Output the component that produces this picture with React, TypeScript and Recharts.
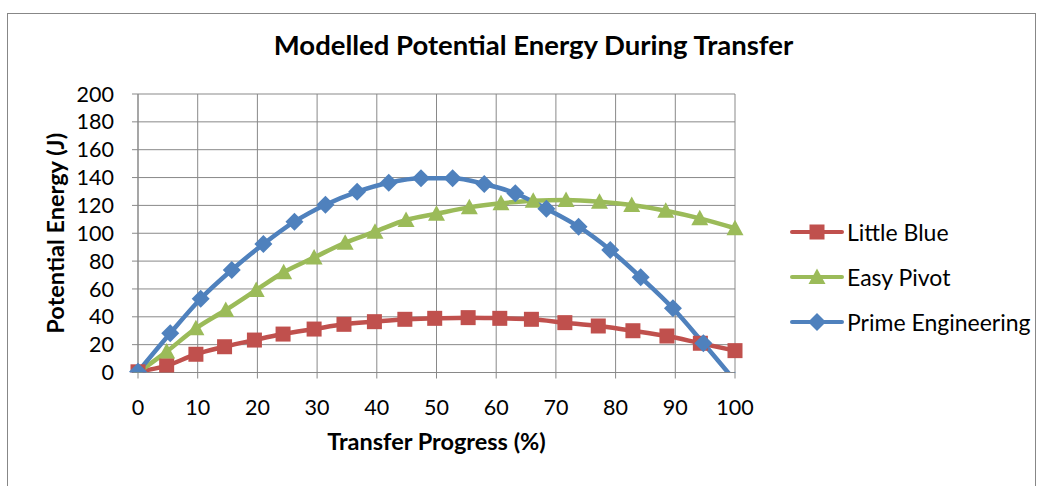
import React from "react";
import { LineChart, Line, XAxis, YAxis, CartesianGrid } from "recharts";

// Transfer progress (%) and potential energy (J)
const littleBlueX = [0, 4.8, 9.7, 14.5, 19.5, 24.3, 29.5, 34.5, 39.6, 44.7, 49.7, 55.3, 60.6, 65.9, 71.5, 77.1, 82.9, 88.6, 94.2, 100];
const littleBlueY = [0.5, 4.9, 13.1, 18.5, 23.3, 27.6, 31.2, 34.6, 36.5, 38.2, 38.9, 39.4, 38.9, 38.2, 35.8, 33.4, 30.0, 26.2, 21.0, 15.7];

const easyPivotX = [0, 4.8, 9.7, 14.7, 19.8, 24.4, 29.5, 34.7, 39.7, 44.9, 50, 55.5, 60.8, 66.2, 71.7, 77.3, 82.7, 88.4, 94.1, 100];
const easyPivotY = [0, 15, 31.7, 44.9, 59.2, 72, 82.6, 93.2, 101.1, 109.5, 114, 118.6, 121.5, 123.4, 123.9, 122.7, 120.3, 116.2, 110.7, 103.6];

const primeX = [0, 5.4, 10.5, 15.7, 21, 26.2, 31.4, 36.7, 42, 47.4, 52.7, 58, 63.2, 68.4, 73.8, 79.1, 84.2, 89.6, 94.7, 100];
const primeY = [0.5, 28.2, 53, 73.6, 92.2, 108.3, 120.5, 129.8, 136.3, 139.5, 139.5, 135.4, 128.7, 117.6, 104.7, 88, 68.4, 46.1, 21, -6];

const xTicks = [0, 10, 20, 30, 40, 50, 60, 70, 80, 90, 100];
const yTicks = [0, 20, 40, 60, 80, 100, 120, 140, 160, 180, 200];

const RED = "#C0504D";
const GREEN = "#9BBB59";
const BLUE = "#4F81BD";
const GRID = "#898989";
const FONT = "Lato, 'Open Sans', sans-serif";

const toPoints = (xs: number[], ys: number[]) => xs.map((x, i) => ({ x, y: ys[i] }));

const littleBlue = toPoints(littleBlueX, littleBlueY);
const easyPivot = toPoints(easyPivotX, easyPivotY);
const prime = toPoints(primeX, primeY);

type Shape = "square" | "triangle" | "diamond";

function Marker({ cx, cy, shape, color }: { cx: number; cy: number; shape: Shape; color: string }) {
  if (shape === "square") {
    return <rect x={cx - 7.5} y={cy - 7.5} width={15} height={15} fill={color} />;
  }
  if (shape === "triangle") {
    return <polygon points={`${cx},${cy - 8.5} ${cx + 8.5},${cy + 7} ${cx - 8.5},${cy + 7}`} fill={color} />;
  }
  return <polygon points={`${cx},${cy - 9} ${cx + 9},${cy} ${cx},${cy + 9} ${cx - 9},${cy}`} fill={color} />;
}

const makeDot = (shape: Shape, color: string) => (props: any) => {
  const { cx, cy, index } = props;
  if (cx == null || cy == null) return <g key={index} />;
  return (
    <g key={index}>
      <Marker cx={cx} cy={cy} shape={shape} color={color} />
    </g>
  );
};

const series = [
  { name: "Little Blue", data: littleBlue, color: RED, shape: "square" as Shape },
  { name: "Easy Pivot", data: easyPivot, color: GREEN, shape: "triangle" as Shape },
  { name: "Prime Engineering", data: prime, color: BLUE, shape: "diamond" as Shape },
];

function LegendBox() {
  return (
    <div style={{ position: "absolute", left: 788, top: 209 }}>
      {series.map((s) => (
        <div key={s.name} style={{ display: "flex", alignItems: "center", height: 45 }}>
          <svg width={58} height={24}>
            <line x1={4} y1={12} x2={54} y2={12} stroke={s.color} strokeWidth={4} strokeLinecap="round" />
            <Marker cx={29} cy={12} shape={s.shape} color={s.color} />
          </svg>
          <span style={{ fontFamily: FONT, fontSize: 23, color: "#000", marginLeft: 1 }}>{s.name}</span>
        </div>
      ))}
    </div>
  );
}

export default function App() {
  return (
    <div style={{ position: "absolute", left: 0, top: 0, width: 1047, height: 486, overflow: "hidden", background: "#fff" }}>
      <div
        style={{
          position: "absolute",
          left: 7,
          top: 13,
          width: 1027,
          height: 500,
          border: "1px solid #878787",
        }}
      />
      <div
        style={{
          position: "absolute",
          left: 0,
          top: 29,
          width: 1067,
          textAlign: "center",
          fontFamily: FONT,
          fontWeight: 700,
          fontSize: 27.5,
          lineHeight: "32px",
          color: "#000",
        }}
      >
        Modelled Potential Energy During Transfer
      </div>
      <div style={{ position: "absolute", left: 0, top: 0 }}>
        <LineChart width={1047} height={486} margin={{ top: 94, right: 312, bottom: 31, left: 51 }}>
          <CartesianGrid stroke={GRID} strokeWidth={1} />
          <XAxis
            type="number"
            dataKey="x"
            domain={[0, 100]}
            ticks={xTicks}
            interval={0}
            height={82.5}
            stroke={GRID}
            tickSize={6}
            tickMargin={21}
            tick={{ fill: "#000", fontSize: 21.5, fontFamily: FONT }}
            label={{
              value: "Transfer Progress (%)",
              position: "insideBottom",
              offset: 5,
              style: { fill: "#000", fontSize: 23.5, fontWeight: 700, fontFamily: FONT },
            }}
          />
          <YAxis
            type="number"
            domain={[0, 200]}
            ticks={yTicks}
            interval={0}
            allowDataOverflow
            width={87}
            stroke={GRID}
            tickSize={6}
            tickMargin={18}
            tick={{ fill: "#000", fontSize: 21.5, fontFamily: FONT }}
            label={{
              value: "Potential Energy (J)",
              angle: -90,
              position: "insideLeft",
              offset: 5,
              style: { fill: "#000", fontSize: 23.5, fontWeight: 700, fontFamily: FONT, textAnchor: "middle" },
            }}
          />
          {series.map((s) => (
            <Line
              key={s.name}
              data={s.data}
              dataKey="y"
              name={s.name}
              type="monotone"
              stroke={s.color}
              strokeWidth={4.5}
              dot={makeDot(s.shape, s.color)}
              activeDot={false}
              isAnimationActive={false}
            />
          ))}
        </LineChart>
      </div>
      <LegendBox />
    </div>
  );
}
